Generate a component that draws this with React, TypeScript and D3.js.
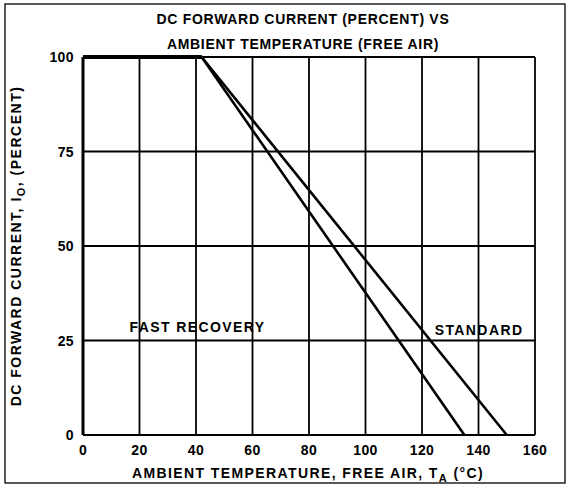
import { useMemo } from 'react'
import * as d3 from 'd3'

// data
const xTicks = [0, 20, 40, 60, 80, 100, 120, 140, 160]
const yTicks = [0, 25, 50, 75, 100]
const fastRecovery = [
  { t: 0, pct: 100 },
  { t: 42, pct: 100 },
  { t: 135, pct: 0 },
]
const standard = [
  { t: 0, pct: 100 },
  { t: 42, pct: 100 },
  { t: 150, pct: 0 },
]

const FONT = '"Liberation Sans", Arial, sans-serif'

function App() {
  const width = 570
  const height = 495
  const margin = { left: 83, right: 35, top: 57, bottom: 60 }

  const x = useMemo(() => d3.scaleLinear().domain([0, 160]).range([margin.left, width - margin.right]), [])
  const y = useMemo(() => d3.scaleLinear().domain([0, 100]).range([height - margin.bottom, margin.top]), [])

  const line = d3.line<any>().x(d => x(d.t)).y(d => y(d.pct))

  return (
    <svg width={width} height={height} style={{ position: 'absolute', left: 0, top: 0, background: '#fff' }}
      fontFamily={FONT} fontWeight="bold">
      {/* frame */}
      <rect x={5} y={4} width={560} height={479} fill="none" stroke="#000" strokeWidth={1.3} />

      {/* title */}
      <text x={303} y={24} textAnchor="middle" fontSize={14} letterSpacing={0.7}>DC FORWARD CURRENT (PERCENT) VS</text>
      <text x={303} y={49} textAnchor="middle" fontSize={14} letterSpacing={0.7}>AMBIENT TEMPERATURE (FREE AIR)</text>

      {/* grid */}
      {xTicks.map(t => (
        <line key={'gx' + t} x1={x(t)} x2={x(t)} y1={y(0)} y2={y(100)} stroke="#000"
          strokeWidth={t === 0 ? 3 : 1.8} />
      ))}
      {yTicks.map(t => (
        <line key={'gy' + t} x1={x(0)} x2={x(160)} y1={y(t)} y2={y(t)} stroke="#000"
          strokeWidth={t === 100 ? 2 : 1.8} />
      ))}

      {/* tick labels */}
      {xTicks.map(t => (
        <text key={'tx' + t} x={x(t)} y={y(0) + 20} textAnchor="middle" fontSize={14} letterSpacing={0.4}>{t}</text>
      ))}
      {yTicks.map(t => (
        <text key={'ty' + t} x={x(0) - 9} y={y(t) + 5} textAnchor="end" fontSize={14} letterSpacing={0.4}>{t}</text>
      ))}

      {/* curves */}
      <path d={line(fastRecovery) || ''} fill="none" stroke="#000" strokeWidth={2.6} />
      <path d={line(standard) || ''} fill="none" stroke="#000" strokeWidth={2.6} />
      <line x1={x(0)} x2={x(42)} y1={y(100)} y2={y(100)} stroke="#000" strokeWidth={4} />

      {/* curve labels */}
      <text x={x(16.5)} y={y(25) - 9} fontSize={14} letterSpacing={1.4}>FAST RECOVERY</text>
      <text x={x(124.5)} y={y(25) - 6} fontSize={14} letterSpacing={1.4}>STANDARD</text>

      {/* axis titles */}
      <text x={308} y={478} textAnchor="middle" fontSize={14} letterSpacing={1.4}>
        AMBIENT TEMPERATURE, FREE AIR, T<tspan fontSize={11} dy={4}>A</tspan><tspan dy={-4}> (°C)</tspan>
      </text>
      <text transform={`translate(21,${(y(0) + y(100)) / 2}) rotate(-90)`} textAnchor="middle" fontSize={14} letterSpacing={1.5}>
        DC FORWARD CURRENT, I<tspan fontSize={11} dy={4}>O</tspan><tspan dy={-4}>, (PERCENT)</tspan>
      </text>
    </svg>
  )
}

export default App
